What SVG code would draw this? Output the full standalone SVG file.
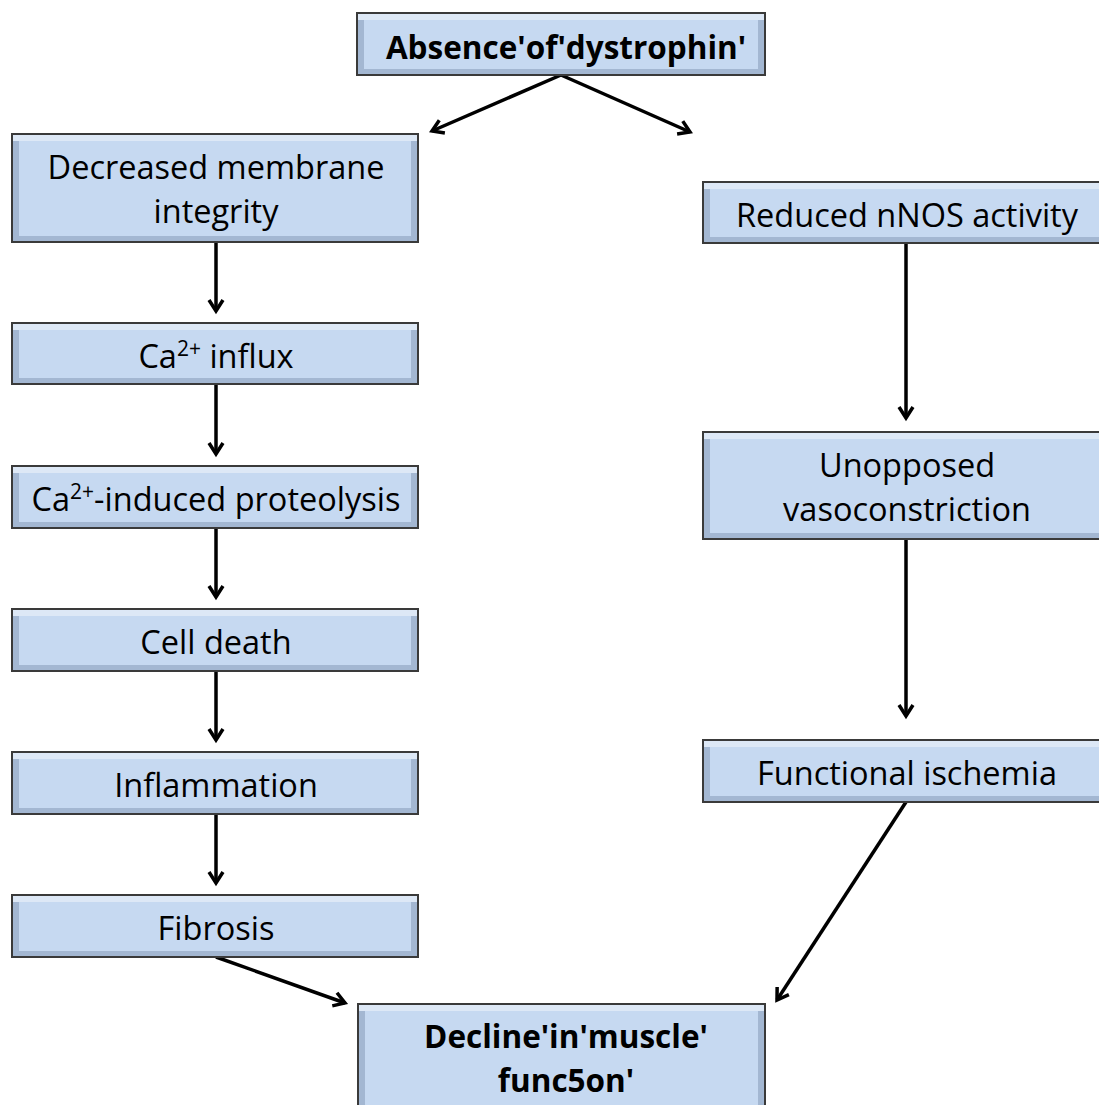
<svg xmlns="http://www.w3.org/2000/svg" width="1099" height="1105" viewBox="0 0 1099 1105">
<style>
.outer{fill:#a3b7d2;stroke:#3a3a3a;stroke-width:2}
.inner{fill:#c6d9f1}
.hi{fill:#dde8f6}
.t{font-family:"Open Sans","Liberation Sans",sans-serif;font-size:32.5px;fill:#000;text-anchor:middle}
.b{font-weight:bold;font-size:31.5px}
.c{stroke:#000;stroke-width:3.5;fill:none}
</style>
<defs>
<marker id="ah" markerWidth="18" markerHeight="18" refX="13" refY="9" orient="auto" markerUnits="userSpaceOnUse">
<path d="M2,2 L13,9 L2,16" fill="none" stroke="#000" stroke-width="3.5"/>
</marker>
</defs>
<rect width="1099" height="1105" fill="#fff"/>
<g id="connectors">
<line class="c" x1="561" y1="75" x2="432" y2="131" marker-end="url(#ah)"/>
<line class="c" x1="561" y1="75" x2="690" y2="132" marker-end="url(#ah)"/>
<line class="c" x1="216" y1="242" x2="216" y2="311" marker-end="url(#ah)"/>
<line class="c" x1="216" y1="384" x2="216" y2="454" marker-end="url(#ah)"/>
<line class="c" x1="216" y1="528" x2="216" y2="597" marker-end="url(#ah)"/>
<line class="c" x1="216" y1="671" x2="216" y2="740" marker-end="url(#ah)"/>
<line class="c" x1="216" y1="814" x2="216" y2="883" marker-end="url(#ah)"/>
<line class="c" x1="906" y1="243" x2="906" y2="418" marker-end="url(#ah)"/>
<line class="c" x1="906" y1="539" x2="906" y2="716" marker-end="url(#ah)"/>
<line class="c" x1="216" y1="957" x2="345" y2="1003" marker-end="url(#ah)"/>
<line class="c" x1="906" y1="802" x2="777" y2="1000" marker-end="url(#ah)"/>
</g>
<g id="n-absence">
<rect class="outer" x="357" y="13" width="408" height="62"/>
<rect class="hi" x="358" y="14" width="406" height="6"/>
<rect class="inner" x="364" y="20" width="394" height="49"/>
<text class="t b" x="566" y="59">Absence'of'dystrophin'</text>
</g>
<g id="n-membrane">
<rect class="outer" x="12" y="134" width="406" height="108"/>
<rect class="hi" x="13" y="135" width="404" height="6"/>
<rect class="inner" x="19" y="141" width="392" height="95"/>
<text class="t" x="216" y="179">Decreased membrane</text>
<text class="t" x="216" y="223">integrity</text>
</g>
<g id="n-influx">
<rect class="outer" x="12" y="323" width="406" height="61"/>
<rect class="hi" x="13" y="324" width="404" height="6"/>
<rect class="inner" x="19" y="330" width="392" height="48"/>
<text class="t" x="216" y="368">Ca<tspan font-size="21" dy="-12">2+</tspan><tspan dy="12"> influx</tspan></text>
</g>
<g id="n-proteolysis">
<rect class="outer" x="12" y="466" width="406" height="62"/>
<rect class="hi" x="13" y="467" width="404" height="6"/>
<rect class="inner" x="19" y="473" width="392" height="49"/>
<text class="t" x="216" y="511">Ca<tspan font-size="21" dy="-12">2+</tspan><tspan dy="12">-induced proteolysis</tspan></text>
</g>
<g id="n-death">
<rect class="outer" x="12" y="609" width="406" height="62"/>
<rect class="hi" x="13" y="610" width="404" height="6"/>
<rect class="inner" x="19" y="616" width="392" height="49"/>
<text class="t" x="216" y="654">Cell death</text>
</g>
<g id="n-inflammation">
<rect class="outer" x="12" y="752" width="406" height="62"/>
<rect class="hi" x="13" y="753" width="404" height="6"/>
<rect class="inner" x="19" y="759" width="392" height="49"/>
<text class="t" x="216" y="797">Inflammation</text>
</g>
<g id="n-fibrosis">
<rect class="outer" x="12" y="895" width="406" height="62"/>
<rect class="hi" x="13" y="896" width="404" height="6"/>
<rect class="inner" x="19" y="902" width="392" height="49"/>
<text class="t" x="216" y="940">Fibrosis</text>
</g>
<g id="n-nnos">
<rect class="outer" x="703" y="182" width="400" height="61"/>
<rect class="hi" x="704" y="183" width="398" height="6"/>
<rect class="inner" x="710" y="189" width="390" height="48"/>
<text class="t" x="907" y="227">Reduced nNOS activity</text>
</g>
<g id="n-vaso">
<rect class="outer" x="703" y="432" width="400" height="107"/>
<rect class="hi" x="704" y="433" width="398" height="6"/>
<rect class="inner" x="710" y="439" width="390" height="94"/>
<text class="t" x="907" y="477">Unopposed</text>
<text class="t" x="907" y="521">vasoconstriction</text>
</g>
<g id="n-ischemia">
<rect class="outer" x="703" y="740" width="400" height="62"/>
<rect class="hi" x="704" y="741" width="398" height="6"/>
<rect class="inner" x="710" y="747" width="390" height="49"/>
<text class="t" x="907" y="785">Functional ischemia</text>
</g>
<g id="n-decline">
<rect class="outer" x="358" y="1004" width="407" height="110"/>
<rect class="hi" x="359" y="1005" width="405" height="6"/>
<rect class="inner" x="365" y="1011" width="393" height="99"/>
<text class="t b" x="566" y="1048">Decline'in'muscle'</text>
<text class="t b" x="566" y="1092">func5on'</text>
</g>
</svg>
